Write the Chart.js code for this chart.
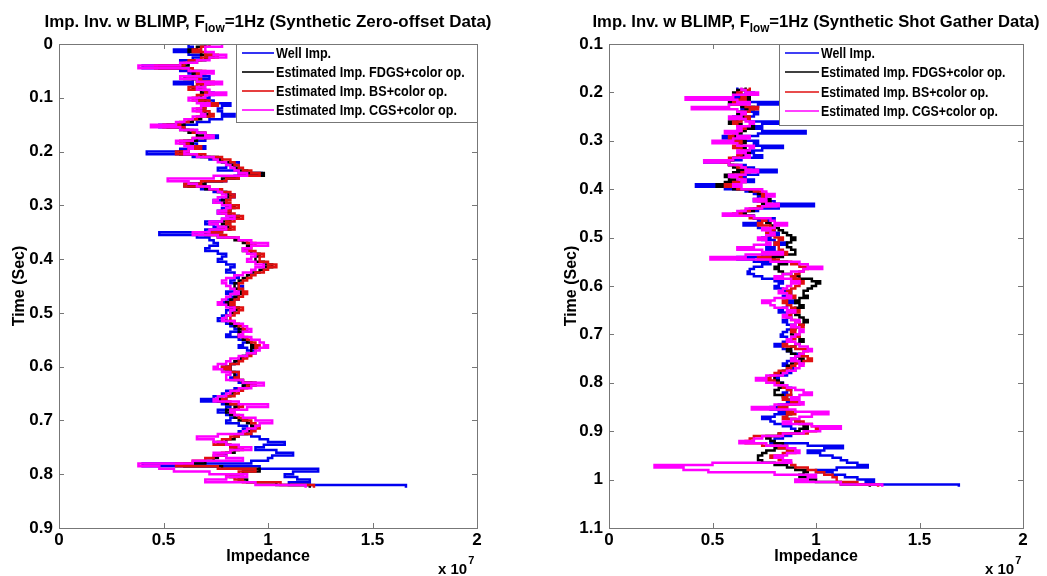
<!DOCTYPE html>
<html>
<head>
<meta charset="utf-8">
<title>Impedance inversion with BLIMP</title>
<script src="https://cdn.jsdelivr.net/npm/chart.js@4.4.0/dist/chart.umd.min.js"></script>
<style>
  body { margin: 0; background: #fff; }
  #wrap { position: relative; width: 1047px; height: 576px; background: #fff; }
  canvas { position: absolute; top: 0; }
</style>
</head>
<body>
<div id="wrap">
  <canvas id="zeroOffset" width="523" height="576" style="left:0"></canvas>
  <canvas id="shotGather" width="524" height="576" style="left:523px"></canvas>
</div>
<script>
// Impedance in units of 1e7, time in seconds (5 ms samples)

// Synthetic zero-offset data
const timeZero = [0, 0.005, 0.01, 0.015, 0.02, 0.025, 0.03, 0.035, 0.04, 0.045,
  0.05, 0.055, 0.06, 0.065, 0.07, 0.075, 0.08, 0.085, 0.09, 0.095,
  0.10, 0.105, 0.11, 0.115, 0.12, 0.125, 0.13, 0.135, 0.14, 0.145,
  0.15, 0.155, 0.16, 0.165, 0.17, 0.175, 0.18, 0.185, 0.19, 0.195,
  0.20, 0.205, 0.21, 0.215, 0.22, 0.225, 0.23, 0.235, 0.24, 0.245,
  0.25, 0.255, 0.26, 0.265, 0.27, 0.275, 0.28, 0.285, 0.29, 0.295,
  0.30, 0.305, 0.31, 0.315, 0.32, 0.325, 0.33, 0.335, 0.34, 0.345,
  0.35, 0.355, 0.36, 0.365, 0.37, 0.375, 0.38, 0.385, 0.39, 0.395,
  0.40, 0.405, 0.41, 0.415, 0.42, 0.425, 0.43, 0.435, 0.44, 0.445,
  0.45, 0.455, 0.46, 0.465, 0.47, 0.475, 0.48, 0.485, 0.49, 0.495,
  0.50, 0.505, 0.51, 0.515, 0.52, 0.525, 0.53, 0.535, 0.54, 0.545,
  0.55, 0.555, 0.56, 0.565, 0.57, 0.575, 0.58, 0.585, 0.59, 0.595,
  0.60, 0.605, 0.61, 0.615, 0.62, 0.625, 0.63, 0.635, 0.64, 0.645,
  0.65, 0.655, 0.66, 0.665, 0.67, 0.675, 0.68, 0.685, 0.69, 0.695,
  0.70, 0.705, 0.71, 0.715, 0.72, 0.725, 0.73, 0.735, 0.74, 0.745,
  0.75, 0.755, 0.76, 0.765, 0.77, 0.775, 0.78, 0.785, 0.79, 0.795,
  0.80, 0.805, 0.81, 0.815, 0.82, 0.825];
const wellZero = [0.62, 0.64, 0.55, 0.62, 0.68, 0.64, 0.58, 0.60, 0.40, 0.58,
  0.62, 0.66, 0.72, 0.64, 0.55, 0.64, 0.66, 0.70, 0.74, 0.72,
  0.70, 0.74, 0.82, 0.78, 0.76, 0.78, 0.84, 0.78, 0.72, 0.66,
  0.48, 0.60, 0.66, 0.70, 0.76, 0.70, 0.62, 0.66, 0.70, 0.58,
  0.42, 0.64, 0.72, 0.78, 0.86, 0.80, 0.76, 0.86, 0.97, 0.84,
  0.80, 0.70, 0.60, 0.68, 0.74, 0.80, 0.84, 0.78, 0.74, 0.80,
  0.82, 0.78, 0.76, 0.82, 0.86, 0.78, 0.70, 0.74, 0.78, 0.70,
  0.48, 0.66, 0.72, 0.74, 0.76, 0.72, 0.70, 0.76, 0.80, 0.78,
  0.76, 0.80, 0.84, 0.82, 0.80, 0.84, 0.86, 0.84, 0.82, 0.86,
  0.88, 0.84, 0.80, 0.82, 0.86, 0.80, 0.78, 0.82, 0.84, 0.80,
  0.80, 0.78, 0.76, 0.80, 0.82, 0.84, 0.86, 0.82, 0.80, 0.86,
  0.90, 0.88, 0.86, 0.90, 0.94, 0.90, 0.88, 0.86, 0.84, 0.82,
  0.78, 0.82, 0.86, 0.84, 0.82, 0.86, 0.94, 0.88, 0.84, 0.80,
  0.78, 0.74, 0.68, 0.78, 0.82, 0.80, 0.76, 0.80, 0.84, 0.82,
  0.80, 0.86, 0.90, 0.88, 0.86, 0.92, 0.96, 1.00, 1.08, 0.98,
  0.94, 1.04, 1.12, 1.02, 1.00, 0.92, 0.40, 0.96, 1.24, 1.12,
  1.08, 1.14, 1.20, 1.10, 1.66, 1.66];
const fdgsZero = [0.70, 0.66, 0.62, 0.68, 0.74, 0.70, 0.66, 0.62, 0.48, 0.62,
  0.68, 0.64, 0.60, 0.66, 0.72, 0.68, 0.64, 0.68, 0.70, 0.68,
  0.66, 0.70, 0.74, 0.70, 0.68, 0.70, 0.72, 0.68, 0.64, 0.60,
  0.52, 0.58, 0.62, 0.66, 0.70, 0.66, 0.60, 0.64, 0.66, 0.62,
  0.58, 0.68, 0.76, 0.78, 0.82, 0.84, 0.86, 0.90, 0.98, 0.86,
  0.78, 0.70, 0.62, 0.70, 0.76, 0.80, 0.82, 0.80, 0.78, 0.80,
  0.84, 0.82, 0.80, 0.82, 0.86, 0.82, 0.78, 0.80, 0.82, 0.78,
  0.70, 0.76, 0.84, 0.88, 0.92, 0.90, 0.88, 0.92, 0.96, 0.94,
  0.94, 0.98, 1.02, 0.98, 0.96, 0.92, 0.90, 0.88, 0.86, 0.84,
  0.84, 0.86, 0.88, 0.86, 0.84, 0.82, 0.80, 0.82, 0.86, 0.84,
  0.82, 0.80, 0.80, 0.82, 0.84, 0.86, 0.88, 0.86, 0.86, 0.88,
  0.90, 0.92, 0.94, 0.92, 0.92, 0.90, 0.88, 0.86, 0.84, 0.82,
  0.80, 0.82, 0.84, 0.84, 0.86, 0.88, 0.92, 0.88, 0.86, 0.84,
  0.82, 0.80, 0.76, 0.80, 0.86, 0.84, 0.80, 0.82, 0.84, 0.86,
  0.90, 0.92, 0.94, 0.92, 0.90, 0.86, 0.84, 0.80, 0.76, 0.82,
  0.86, 0.84, 0.80, 0.76, 0.74, 0.70, 0.60, 0.78, 0.96, 0.88,
  0.82, 0.86, 0.90, 1.04, 1.20, 1.20];
const bsZero = [0.72, 0.68, 0.64, 0.70, 0.76, 0.68, 0.62, 0.60, 0.46, 0.64,
  0.70, 0.66, 0.62, 0.68, 0.74, 0.66, 0.62, 0.70, 0.72, 0.66,
  0.64, 0.72, 0.76, 0.70, 0.66, 0.72, 0.74, 0.66, 0.62, 0.58,
  0.50, 0.60, 0.64, 0.70, 0.72, 0.64, 0.58, 0.62, 0.68, 0.62,
  0.56, 0.70, 0.78, 0.82, 0.84, 0.86, 0.88, 0.92, 0.96, 0.86,
  0.80, 0.68, 0.60, 0.72, 0.78, 0.82, 0.84, 0.82, 0.80, 0.82,
  0.86, 0.82, 0.78, 0.84, 0.88, 0.84, 0.80, 0.82, 0.84, 0.78,
  0.72, 0.80, 0.86, 0.90, 0.94, 0.92, 0.90, 0.94, 0.98, 0.96,
  0.96, 1.00, 1.04, 1.00, 0.98, 0.94, 0.92, 0.90, 0.88, 0.86,
  0.86, 0.88, 0.90, 0.88, 0.86, 0.84, 0.82, 0.84, 0.88, 0.86,
  0.84, 0.82, 0.82, 0.84, 0.86, 0.88, 0.90, 0.88, 0.88, 0.90,
  0.92, 0.94, 0.96, 0.94, 0.94, 0.92, 0.90, 0.88, 0.86, 0.82,
  0.78, 0.82, 0.86, 0.86, 0.84, 0.88, 0.94, 0.90, 0.88, 0.86,
  0.84, 0.80, 0.78, 0.82, 0.88, 0.86, 0.82, 0.84, 0.86, 0.88,
  0.92, 0.94, 0.96, 0.94, 0.92, 0.86, 0.82, 0.78, 0.74, 0.82,
  0.88, 0.82, 0.78, 0.74, 0.70, 0.64, 0.56, 0.76, 0.94, 0.86,
  0.80, 0.84, 0.88, 1.06, 1.22, 1.22];
const cgsZero = [0.78, 0.70, 0.70, 0.74, 0.80, 0.72, 0.66, 0.58, 0.38, 0.62,
  0.74, 0.68, 0.58, 0.66, 0.78, 0.70, 0.66, 0.72, 0.80, 0.70,
  0.62, 0.66, 0.72, 0.68, 0.64, 0.68, 0.70, 0.64, 0.60, 0.56,
  0.44, 0.58, 0.66, 0.70, 0.74, 0.64, 0.56, 0.60, 0.64, 0.62,
  0.60, 0.66, 0.74, 0.76, 0.80, 0.82, 0.84, 0.86, 0.90, 0.74,
  0.52, 0.62, 0.66, 0.72, 0.76, 0.78, 0.80, 0.76, 0.74, 0.78,
  0.82, 0.80, 0.76, 0.80, 0.84, 0.78, 0.72, 0.76, 0.80, 0.72,
  0.64, 0.76, 0.86, 0.92, 1.00, 0.92, 0.88, 0.90, 0.94, 0.92,
  0.90, 0.94, 0.98, 0.94, 0.92, 0.88, 0.84, 0.80, 0.78, 0.80,
  0.82, 0.84, 0.86, 0.82, 0.80, 0.78, 0.76, 0.80, 0.84, 0.82,
  0.82, 0.80, 0.78, 0.84, 0.88, 0.90, 0.92, 0.88, 0.86, 0.92,
  0.96, 0.98, 1.00, 0.96, 0.94, 0.90, 0.86, 0.82, 0.80, 0.76,
  0.74, 0.78, 0.82, 0.80, 0.80, 0.88, 0.98, 0.92, 0.86, 0.82,
  0.80, 0.76, 0.74, 0.86, 1.00, 0.90, 0.82, 0.84, 0.88, 0.94,
  1.02, 0.96, 0.94, 0.90, 0.88, 0.76, 0.66, 0.74, 0.80, 0.86,
  0.92, 0.82, 0.74, 0.80, 0.88, 0.64, 0.38, 0.48, 0.55, 0.72,
  0.90, 0.80, 0.70, 0.94, 1.18, 1.18];

// Synthetic shot gather data
const timeShot = [0.19, 0.195, 0.20, 0.205, 0.21, 0.215, 0.22, 0.225, 0.23, 0.235,
  0.24, 0.245, 0.25, 0.255, 0.26, 0.265, 0.27, 0.275, 0.28, 0.285,
  0.29, 0.295, 0.30, 0.305, 0.31, 0.315, 0.32, 0.325, 0.33, 0.335,
  0.34, 0.345, 0.35, 0.355, 0.36, 0.365, 0.37, 0.375, 0.38, 0.385,
  0.39, 0.395, 0.40, 0.405, 0.41, 0.415, 0.42, 0.425, 0.43, 0.435,
  0.44, 0.445, 0.45, 0.455, 0.46, 0.465, 0.47, 0.475, 0.48, 0.485,
  0.49, 0.495, 0.50, 0.505, 0.51, 0.515, 0.52, 0.525, 0.53, 0.535,
  0.54, 0.545, 0.55, 0.555, 0.56, 0.565, 0.57, 0.575, 0.58, 0.585,
  0.59, 0.595, 0.60, 0.605, 0.61, 0.615, 0.62, 0.625, 0.63, 0.635,
  0.64, 0.645, 0.65, 0.655, 0.66, 0.665, 0.67, 0.675, 0.68, 0.685,
  0.69, 0.695, 0.70, 0.705, 0.71, 0.715, 0.72, 0.725, 0.73, 0.735,
  0.74, 0.745, 0.75, 0.755, 0.76, 0.765, 0.77, 0.775, 0.78, 0.785,
  0.79, 0.795, 0.80, 0.805, 0.81, 0.815, 0.82, 0.825, 0.83, 0.835,
  0.84, 0.845, 0.85, 0.855, 0.86, 0.865, 0.87, 0.875, 0.88, 0.885,
  0.89, 0.895, 0.90, 0.905, 0.91, 0.915, 0.92, 0.925, 0.93, 0.935,
  0.94, 0.945, 0.95, 0.955, 0.96, 0.965, 0.97, 0.975, 0.98, 0.985,
  0.99, 0.995, 1.00, 1.005, 1.01, 1.015];
const wellShot = [0.62, 0.66, 0.70, 0.64, 0.55, 0.68, 0.84, 0.72, 0.64, 0.66,
  0.72, 0.70, 0.60, 0.68, 0.86, 0.74, 0.68, 0.74, 0.95, 0.72,
  0.55, 0.64, 0.72, 0.70, 0.84, 0.74, 0.66, 0.70, 0.74, 0.64,
  0.46, 0.58, 0.66, 0.70, 0.81, 0.72, 0.62, 0.66, 0.70, 0.58,
  0.42, 0.56, 0.66, 0.70, 0.76, 0.72, 0.70, 0.80, 0.99, 0.82,
  0.72, 0.66, 0.62, 0.70, 0.80, 0.72, 0.65, 0.72, 0.76, 0.80,
  0.82, 0.78, 0.74, 0.80, 0.86, 0.80, 0.76, 0.80, 0.82, 0.74,
  0.62, 0.70, 0.78, 0.74, 0.70, 0.68, 0.67, 0.70, 0.74, 0.80,
  0.84, 0.82, 0.80, 0.84, 0.88, 0.86, 0.84, 0.86, 0.90, 0.86,
  0.86, 0.84, 0.82, 0.86, 0.88, 0.86, 0.84, 0.86, 0.90, 0.88,
  0.86, 0.84, 0.83, 0.86, 0.88, 0.84, 0.80, 0.84, 0.86, 0.88,
  0.92, 0.90, 0.88, 0.86, 0.84, 0.88, 0.90, 0.88, 0.86, 0.82,
  0.80, 0.82, 0.84, 0.86, 0.88, 0.86, 0.84, 0.88, 0.90, 0.88,
  0.86, 0.82, 0.78, 0.82, 0.86, 0.80, 0.74, 0.78, 0.80, 0.84,
  0.88, 0.90, 0.92, 0.88, 0.84, 0.80, 0.78, 0.96, 1.13, 1.04,
  0.96, 1.02, 1.08, 1.12, 1.15, 1.20, 1.25, 1.10, 1.00, 1.08,
  1.14, 1.20, 1.28, 1.24, 1.69, 1.69];
const fdgsShot = [0.66, 0.62, 0.60, 0.64, 0.68, 0.62, 0.58, 0.64, 0.70, 0.66,
  0.62, 0.64, 0.66, 0.62, 0.58, 0.64, 0.70, 0.66, 0.64, 0.62,
  0.60, 0.62, 0.66, 0.64, 0.62, 0.66, 0.68, 0.66, 0.64, 0.60,
  0.56, 0.58, 0.60, 0.62, 0.66, 0.60, 0.56, 0.58, 0.62, 0.56,
  0.52, 0.60, 0.68, 0.72, 0.74, 0.76, 0.78, 0.76, 0.74, 0.72,
  0.70, 0.66, 0.64, 0.70, 0.74, 0.76, 0.78, 0.80, 0.82, 0.84,
  0.86, 0.88, 0.90, 0.88, 0.86, 0.86, 0.88, 0.90, 0.90, 0.84,
  0.76, 0.80, 0.86, 0.82, 0.80, 0.82, 0.84, 0.88, 0.92, 0.98,
  1.02, 1.00, 0.98, 0.96, 0.94, 0.94, 0.96, 0.92, 0.90, 0.92,
  0.94, 0.90, 0.88, 0.90, 0.92, 0.94, 0.96, 0.94, 0.92, 0.90,
  0.88, 0.88, 0.90, 0.92, 0.94, 0.92, 0.90, 0.88, 0.86, 0.88,
  0.90, 0.92, 0.94, 0.90, 0.88, 0.86, 0.86, 0.84, 0.82, 0.80,
  0.80, 0.82, 0.84, 0.84, 0.82, 0.80, 0.80, 0.84, 0.86, 0.88,
  0.90, 0.86, 0.84, 0.86, 0.88, 0.86, 0.86, 0.90, 0.92, 0.94,
  0.96, 0.92, 0.90, 0.82, 0.76, 0.78, 0.80, 0.84, 0.86, 0.80,
  0.76, 0.74, 0.72, 0.72, 0.74, 0.80, 0.86, 0.90, 0.96, 0.94,
  0.92, 0.96, 1.00, 1.12, 1.26, 1.26];
const bsShot = [0.68, 0.64, 0.62, 0.64, 0.66, 0.62, 0.60, 0.66, 0.72, 0.68,
  0.64, 0.66, 0.68, 0.64, 0.60, 0.62, 0.66, 0.64, 0.62, 0.60,
  0.58, 0.60, 0.64, 0.62, 0.60, 0.64, 0.66, 0.64, 0.62, 0.58,
  0.54, 0.58, 0.62, 0.66, 0.68, 0.64, 0.60, 0.64, 0.66, 0.60,
  0.56, 0.62, 0.70, 0.74, 0.76, 0.74, 0.72, 0.76, 0.78, 0.72,
  0.68, 0.64, 0.60, 0.68, 0.76, 0.74, 0.72, 0.78, 0.80, 0.78,
  0.76, 0.80, 0.84, 0.82, 0.80, 0.82, 0.82, 0.84, 0.86, 0.78,
  0.72, 0.82, 0.88, 0.92, 0.96, 0.94, 0.92, 0.90, 0.88, 0.92,
  0.94, 0.92, 0.90, 0.88, 0.86, 0.88, 0.90, 0.86, 0.84, 0.86,
  0.88, 0.90, 0.92, 0.88, 0.86, 0.88, 0.90, 0.92, 0.94, 0.90,
  0.88, 0.90, 0.92, 0.90, 0.88, 0.86, 0.84, 0.90, 0.96, 0.94,
  0.92, 0.96, 0.98, 0.94, 0.90, 0.88, 0.86, 0.82, 0.80, 0.78,
  0.76, 0.80, 0.82, 0.84, 0.86, 0.88, 0.88, 0.86, 0.84, 0.88,
  0.92, 0.86, 0.82, 0.86, 0.90, 0.86, 0.84, 0.90, 0.94, 0.98,
  1.02, 1.00, 0.96, 0.82, 0.70, 0.68, 0.66, 0.74, 0.82, 0.86,
  0.90, 0.84, 0.78, 0.82, 0.86, 0.88, 0.90, 0.96, 1.00, 1.04,
  1.08, 1.10, 1.10, 1.20, 1.30, 1.30];
const cgsShot = [0.64, 0.66, 0.72, 0.60, 0.37, 0.62, 0.68, 0.58, 0.40, 0.62,
  0.66, 0.64, 0.58, 0.66, 0.70, 0.68, 0.62, 0.64, 0.56, 0.62,
  0.68, 0.60, 0.50, 0.62, 0.70, 0.68, 0.62, 0.66, 0.68, 0.60,
  0.46, 0.58, 0.64, 0.66, 0.72, 0.66, 0.58, 0.62, 0.66, 0.64,
  0.60, 0.64, 0.74, 0.76, 0.80, 0.76, 0.70, 0.76, 0.82, 0.74,
  0.66, 0.62, 0.55, 0.70, 0.78, 0.80, 0.86, 0.80, 0.74, 0.78,
  0.80, 0.76, 0.72, 0.76, 0.78, 0.70, 0.62, 0.74, 0.84, 0.66,
  0.49, 0.78, 0.92, 0.96, 1.03, 0.94, 0.88, 0.84, 0.80, 0.88,
  0.92, 0.88, 0.86, 0.84, 0.82, 0.86, 0.88, 0.80, 0.74, 0.78,
  0.80, 0.86, 0.90, 0.86, 0.84, 0.88, 0.92, 0.90, 0.88, 0.92,
  0.94, 0.92, 0.90, 0.88, 0.86, 0.90, 0.92, 0.96, 0.98, 0.94,
  0.92, 0.90, 0.88, 0.92, 0.94, 0.92, 0.90, 0.86, 0.84, 0.76,
  0.71, 0.76, 0.80, 0.86, 0.90, 0.94, 0.98, 0.92, 0.88, 0.92,
  0.94, 0.80, 0.69, 0.90, 1.06, 0.98, 0.92, 0.88, 0.84, 0.98,
  1.12, 1.02, 0.94, 0.84, 0.74, 0.70, 0.63, 0.76, 0.86, 0.90,
  0.92, 0.86, 0.80, 0.84, 0.88, 0.50, 0.22, 0.36, 0.48, 0.80,
  1.00, 0.96, 0.90, 1.12, 1.32, 1.32];

const seriesNames = ['Well Imp.', 'Estimated Imp. FDGS+color op.', 'Estimated Imp. BS+color op.', 'Estimated Imp. CGS+color op.'];
const seriesColors = ['#0000f0', '#000000', '#e01010', '#ff00ff'];
const impedanceTicks = [0, 0.5, 1, 1.5, 2];

Chart.defaults.font.family = '"Liberation Sans", Arial, sans-serif';
Chart.defaults.font.weight = 'bold';
Chart.defaults.font.size = 17;
Chart.defaults.color = '#000';

const FONT = '"Liberation Sans", Arial, sans-serif';

// MATLAB-like frame: box, inward ticks, title with subscript, labels, legend
const matlabAxes = {
  id: 'matlabAxes',
  afterDraw(chart, args, o) {
    const { ctx, chartArea: a, scales: { x, y } } = chart;
    ctx.save();
    ctx.strokeStyle = '#777';
    ctx.lineWidth = 1;
    ctx.strokeRect(a.left + 0.5, a.top + 0.5, a.right - a.left, a.bottom - a.top);
    ctx.beginPath();
    x.ticks.forEach(t => {
      const px = Math.round(x.getPixelForValue(t.value)) + 0.5;
      ctx.moveTo(px, a.bottom); ctx.lineTo(px, a.bottom - 5);
      ctx.moveTo(px, a.top); ctx.lineTo(px, a.top + 5);
    });
    y.ticks.forEach(t => {
      const py = Math.round(y.getPixelForValue(t.value)) + 0.5;
      ctx.moveTo(a.left, py); ctx.lineTo(a.left + 5, py);
      ctx.moveTo(a.right, py); ctx.lineTo(a.right - 5, py);
    });
    ctx.stroke();

    ctx.fillStyle = '#000';
    // title with subscript "low", squeezed to the available width
    const big = 'bold 17px ' + FONT, small = 'bold 12px ' + FONT;
    ctx.font = big;
    const w1 = ctx.measureText(o.titleHead).width;
    const w3 = ctx.measureText(o.titleTail).width;
    ctx.font = small;
    const w2 = ctx.measureText('low').width;
    const total = w1 + w2 + w3;
    const k = Math.min(1, o.titleMax / total);
    ctx.save();
    ctx.translate((a.left + a.right) / 2, 0);
    ctx.scale(k, 1);
    const tx = -total / 2;
    ctx.textBaseline = 'alphabetic';
    ctx.textAlign = 'left';
    ctx.font = big;
    ctx.fillText(o.titleHead, tx, 27);
    ctx.font = small;
    ctx.fillText('low', tx + w1, 32);
    ctx.font = big;
    ctx.fillText(o.titleTail, tx + w1 + w2, 27);
    ctx.restore();

    // axis labels
    ctx.font = 'bold 16px ' + FONT;
    ctx.textAlign = 'center';
    ctx.fillText('Impedance', (a.left + a.right) / 2, 561);
    ctx.save();
    ctx.translate(o.yLabelX, (a.top + a.bottom) / 2);
    ctx.rotate(-Math.PI / 2);
    ctx.fillText('Time (Sec)', 0, 0);
    ctx.restore();

    // exponent
    ctx.textAlign = 'left';
    ctx.font = 'bold 15px ' + FONT;
    ctx.fillText('x 10', o.expX, 574);
    const we = ctx.measureText('x 10').width;
    ctx.font = 'bold 11px ' + FONT;
    ctx.fillText('7', o.expX + we + 1, 564);

    // legend
    const L = o.legend;
    ctx.fillStyle = '#fff';
    ctx.fillRect(L.left, a.top, a.right - L.left, L.bottom - a.top);
    ctx.strokeStyle = '#777';
    ctx.strokeRect(L.left + 0.5, a.top + 0.5, a.right - L.left, L.bottom - a.top);
    ctx.font = 'bold 14px ' + FONT;
    ctx.textBaseline = 'middle';
    chart.data.datasets.forEach((ds, i) => {
      const ry = L.rows[i];
      ctx.strokeStyle = ds.borderColor;
      ctx.lineWidth = 1.6;
      ctx.beginPath();
      ctx.moveTo(L.left + 6, ry); ctx.lineTo(L.left + L.lineLen, ry);
      ctx.stroke();
      ctx.fillStyle = '#000';
      const tw = ctx.measureText(ds.label).width;
      ctx.fillText(ds.label, L.left + L.lineLen + 2, ry + 1, Math.max(tw * L.squeeze, 1));
    });
    ctx.restore();
  }
};

function buildDatasets(times, columns) {
  return columns.map((vals, i) => ({
    label: seriesNames[i],
    data: times.map((t, k) => ({ x: vals[k], y: t })),
    borderColor: seriesColors[i],
    borderWidth: 2.5,
    stepped: 'after',
    pointRadius: 0,
    fill: false,
    order: 3 - i
  }));
}

function makeChart(id, times, columns, cfg) {
  return new Chart(document.getElementById(id), {
    type: 'line',
    data: { datasets: buildDatasets(times, columns) },
    options: {
      responsive: false,
      animation: false,
      layout: { padding: { top: 44, right: cfg.padRight, left: 0, bottom: 0 } },
      plugins: {
        legend: { display: false },
        tooltip: { enabled: false },
        matlabAxes: cfg.frame
      },
      scales: {
        x: {
          type: 'linear', min: 0, max: 2,
          afterBuildTicks: s => { s.ticks = impedanceTicks.map(v => ({ value: v })); },
          ticks: { padding: 2, maxRotation: 0, callback: v => String(v) },
          grid: { display: false, drawTicks: false },
          border: { display: false },
          afterFit: s => { s.height = 48; }
        },
        y: {
          type: 'linear', reverse: true, min: cfg.yMin, max: cfg.yMax,
          ticks: { stepSize: 0.1, padding: 6, callback: v => String(+v.toFixed(1)) },
          grid: { display: false, drawTicks: false },
          border: { display: false },
          afterFit: s => { s.width = cfg.yWidth; }
        }
      }
    },
    plugins: [matlabAxes]
  });
}

makeChart('zeroOffset', timeZero, [wellZero, fdgsZero, bsZero, cgsZero], {
  padRight: 46, yWidth: 59, yMin: 0, yMax: 0.9,
  frame: {
    titleHead: 'Imp. Inv. w BLIMP, F',
    titleTail: '=1Hz (Synthetic Zero-offset Data)',
    titleMax: 447,
    yLabelX: 24, expX: 438,
    legend: { left: 236, bottom: 122, lineLen: 38, squeeze: 0.9, rows: [53, 72, 91, 110] }
  }
});

makeChart('shotGather', timeShot, [wellShot, fdgsShot, bsShot, cgsShot], {
  padRight: 24, yWidth: 86, yMin: 0.1, yMax: 1.1,
  frame: {
    titleHead: 'Imp. Inv. w BLIMP, F',
    titleTail: '=1Hz (Synthetic Shot Gather Data)',
    titleMax: 447,
    yLabelX: 53, expX: 462,
    legend: { left: 256, bottom: 125, lineLen: 40, squeeze: 0.88, rows: [53, 72, 92, 111] }
  }
});
</script>
</body>
</html>
